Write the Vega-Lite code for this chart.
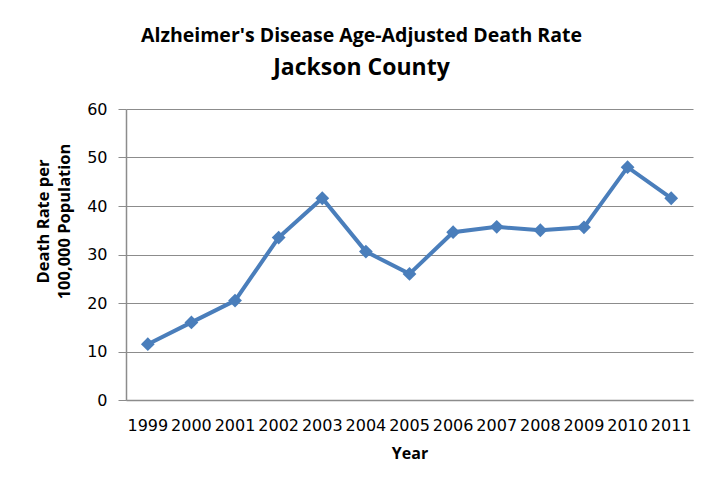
{
  "$schema": "https://vega.github.io/schema/vega-lite/v6.json",
  "autosize": {"type": "none"},
  "width": 567,
  "height": 291,
  "padding": {"left": 126, "top": 109, "right": 23, "bottom": 88},
  "background": "white",
  "title": {
    "text": "Alzheimer's Disease Age-Adjusted Death Rate",
    "subtitle": "Jackson County",
    "anchor": "middle",
    "frame": "group",
    "dx": -48,
    "font": "Open Sans",
    "fontSize": 19.5,
    "fontWeight": "bold",
    "color": "#000000",
    "subtitleFont": "Open Sans",
    "subtitleFontSize": 23,
    "subtitleFontWeight": "bold",
    "subtitleColor": "#000000",
    "subtitlePadding": 11,
    "offset": 20
  },
  "data": {
    "values": [
      {"Year": "1999", "Rate": 11.5},
      {"Year": "2000", "Rate": 16.0},
      {"Year": "2001", "Rate": 20.5},
      {"Year": "2002", "Rate": 33.5},
      {"Year": "2003", "Rate": 41.6},
      {"Year": "2004", "Rate": 30.6},
      {"Year": "2005", "Rate": 26.0},
      {"Year": "2006", "Rate": 34.6},
      {"Year": "2007", "Rate": 35.7},
      {"Year": "2008", "Rate": 35.0},
      {"Year": "2009", "Rate": 35.6},
      {"Year": "2010", "Rate": 48.0},
      {"Year": "2011", "Rate": 41.6}
    ]
  },
  "encoding": {
    "x": {
      "field": "Year",
      "type": "ordinal",
      "scale": {"type": "band", "paddingInner": 0, "paddingOuter": 0},
      "axis": {
        "title": "Year",
        "labelAngle": 0,
        "ticks": false,
        "grid": false,
        "domainColor": "#8c8c8c",
        "domainWidth": 1.5,
        "labelFont": "DejaVu Sans",
        "labelFontSize": 16,
        "labelColor": "#000000",
        "labelPadding": 17,
        "titleFont": "Open Sans",
        "titleFontSize": 16,
        "titleFontWeight": "bold",
        "titleColor": "#000000",
        "titlePadding": 12
      }
    },
    "y": {
      "field": "Rate",
      "type": "quantitative",
      "scale": {"domain": [0, 60], "nice": false},
      "axis": {
        "title": ["Death Rate per", "100,000 Population"],
        "values": [0, 10, 20, 30, 40, 50, 60],
        "tickSize": 8,
        "tickColor": "#8c8c8c",
        "domainColor": "#8c8c8c",
        "domainWidth": 1.5,
        "gridColor": "#8c8c8c",
        "gridWidth": 1.2,
        "labelFont": "DejaVu Sans",
        "labelFontSize": 16,
        "labelColor": "#000000",
        "labelPadding": 11,
        "titleFont": "Open Sans",
        "titleFontSize": 16.5,
        "titleFontWeight": "bold",
        "titleColor": "#000000",
        "titleLineHeight": 21,
        "titleX": -78,
        "titleY": 112,
        "titleBaseline": "alphabetic"
      }
    }
  },
  "layer": [
    {
      "mark": {"type": "line", "color": "#4A7EBB", "strokeWidth": 4}
    },
    {
      "mark": {"type": "point", "shape": "diamond", "filled": true, "color": "#4A7EBB", "size": 190, "opacity": 1}
    }
  ],
  "config": {
    "view": {"stroke": null}
  }
}
